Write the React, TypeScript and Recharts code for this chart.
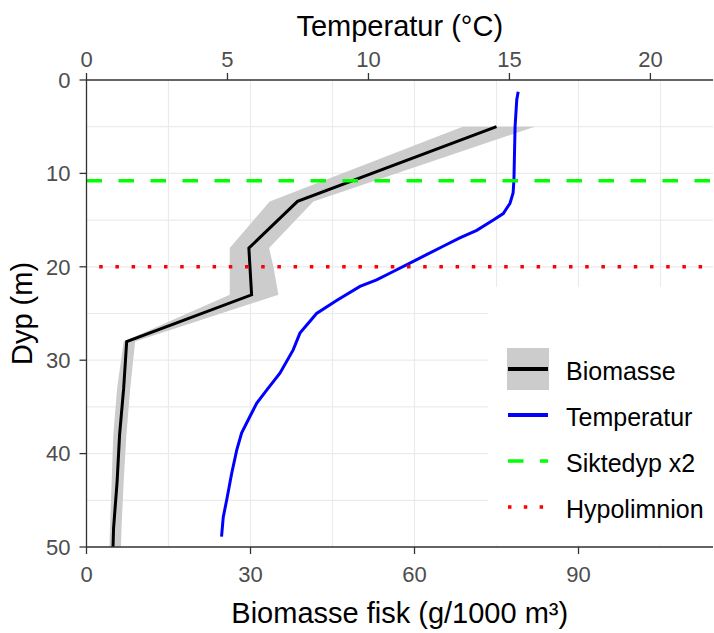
import { ComposedChart, XAxis, YAxis, CartesianGrid, Line, Area, ReferenceLine, Legend, Label } from 'recharts';

const FONT = '"Liberation Sans", Arial, Helvetica, sans-serif';

// biomasse fisk (g/1000 m3) med usikkerhetsbånd, per dyp (m)
const bioDepth = [5, 13, 18, 20, 23, 28, 33, 38, 43, 48, 50];
const bioMean = [75.0, 38.6, 29.7, 29.9, 30.2, 7.35, 6.8, 6.05, 5.6, 4.95, 4.85];
const bioLow = [68.8, 33.5, 26.2, 26.2, 26.2, 6.8, 5.6, 4.9, 4.6, 4.3, 4.2];
const bioHigh = [82.0, 41.5, 33.4, 34.2, 35.1, 8.9, 8.0, 7.3, 6.8, 6.4, 6.3];

// temperaturprofil
const tempDepth = [1.25, 2.1, 5.0, 10.7, 12.1, 13.2, 14.3, 15.0, 16.1, 16.9, 17.8, 18.7, 19.6, 20.5, 21.4, 22.1,
  23.6, 25.0, 27.1, 28.9, 31.4, 33.2, 34.6, 36.0, 37.8, 39.6, 42.1, 45.0, 46.8, 48.9];
const tempValue = [15.31, 15.26, 15.2, 15.16, 15.13, 15.02, 14.78, 14.43, 13.84, 13.24, 12.65, 12.06, 11.47, 10.88, 10.29, 9.7,
  8.87, 8.16, 7.57, 7.33, 6.86, 6.39, 6.04, 5.8, 5.5, 5.33, 5.15, 4.97, 4.85, 4.79];

const siktedyp2 = 10.8;
const hypolimnion = 20;

const bioTicks = [0, 30, 60, 90];
const tempTicks = [0, 5, 10, 15, 20];
const depthTicks = [0, 10, 20, 30, 40, 50];
const bioGrid = [0, 15, 30, 45, 60, 75, 90, 105];
const depthGrid = [0, 5, 10, 15, 20, 25, 30, 35, 40, 45, 50];

const legendNames = ['Biomasse', 'Temperatur', 'Siktedyp x2', 'Hypolimnion'];

const biomasse = bioDepth.map((d, i) => ({ depth: d, bio: bioMean[i], band: [bioLow[i], bioHigh[i]] }));
const temperatur = tempDepth.map((d, i) => ({ depth: d, temp: tempValue[i] }));

const tickStyle = { fill: '#4d4d4d', fontSize: 22, fontFamily: FONT };
const axisStyle = { stroke: '#333333', strokeWidth: 1.3 };

function LegendKey({ i }: { i: number }) {
  if (i === 0) {
    return (
      <svg width={42} height={42}>
        <rect x={0} y={0} width={42} height={42} fill="#cccccc" />
        <line x1={1} x2={41} y1={21} y2={21} stroke="#000" strokeWidth={4} />
      </svg>
    );
  }
  const stroke = ['', '#0000ff', '#00ff00', '#ff0000'][i];
  const dash = ['', undefined, '15.5 16.5', '3.5 12.3'][i];
  return (
    <svg width={42} height={42}>
      <line x1={1} x2={41} y1={21} y2={21} stroke={stroke} strokeWidth={i === 1 ? 4 : 3.5} strokeDasharray={dash} />
    </svg>
  );
}

function LegendBox() {
  return (
    <div style={{ width: 225, height: 258, background: '#fff', paddingTop: 58.5, paddingLeft: 19, boxSizing: 'border-box' }}>
      {legendNames.map((name, i) => (
        <div key={name} style={{ display: 'flex', alignItems: 'center', height: 46 }}>
          <LegendKey i={i} />
          <span style={{ marginLeft: 17, fontFamily: FONT, fontSize: 25, color: '#000', position: 'relative', top: 3 }}>{name}</span>
        </div>
      ))}
    </div>
  );
}

export default function App() {
  return (
    <div style={{ position: 'absolute', left: 0, top: 0, background: '#fff' }}>
      <ComposedChart width={714} height={633} layout="vertical" margin={{ top: 0, right: 1, bottom: 0, left: 0 }}>
        <CartesianGrid xAxisId="bio" yAxisId="d" stroke="#ebebeb" strokeWidth={1.2}
          verticalValues={bioGrid} horizontalValues={depthGrid} />
        <XAxis xAxisId="bio" orientation="bottom" type="number" domain={[0, 114.6]} ticks={bioTicks}
          allowDataOverflow height={86} tick={tickStyle} tickSize={7} tickMargin={12}
          axisLine={axisStyle} tickLine={axisStyle}>
          <Label value="Biomasse fisk (g/1000 m³)" position="insideBottom" offset={10}
            style={{ fontSize: 29, fontFamily: FONT, fill: '#000' }} />
        </XAxis>
        <XAxis xAxisId="temp" orientation="top" type="number" domain={[0, 22.22]} ticks={tempTicks}
          allowDataOverflow height={80} tick={tickStyle} tickSize={7} tickMargin={6}
          axisLine={axisStyle} tickLine={axisStyle}>
          <Label value="Temperatur (°C)" position="insideTop" offset={15}
            style={{ fontSize: 29, fontFamily: FONT, fill: '#000' }} />
        </XAxis>
        <YAxis yAxisId="d" type="number" dataKey="depth" domain={[0, 50]} ticks={depthTicks}
          allowDataOverflow width={86.5} tick={tickStyle} tickSize={7} tickMargin={9}
          axisLine={axisStyle} tickLine={axisStyle}>
          <Label content={(props: any) => {
            const vb = props.viewBox;
            const cx = vb.x + 32;
            const cy = vb.y + vb.height / 2;
            return (
              <text x={cx} y={cy} transform={`rotate(-90 ${cx} ${cy})`} textAnchor="middle"
                style={{ fontSize: 29, fontFamily: FONT, fill: '#000' }}>Dyp (m)</text>
            );
          }} />
        </YAxis>
        <Area xAxisId="bio" yAxisId="d" data={biomasse} dataKey="band" type="linear"
          fill="#cccccc" fillOpacity={1} stroke="none" isAnimationActive={false} />
        <Line xAxisId="bio" yAxisId="d" data={biomasse} dataKey="bio" type="linear" stroke="#000000"
          strokeWidth={3} dot={false} activeDot={false} isAnimationActive={false} />
        <Line xAxisId="temp" yAxisId="d" data={temperatur} dataKey="temp" type="linear" stroke="#0000ff"
          strokeWidth={3} dot={false} activeDot={false} isAnimationActive={false} />
        <ReferenceLine xAxisId="bio" yAxisId="d" y={siktedyp2} stroke="#00ff00" strokeWidth={3.5}
          strokeDasharray="15.5 16.5" />
        <ReferenceLine xAxisId="bio" yAxisId="d" y={hypolimnion} stroke="#ff0000" strokeWidth={3.5}
          strokeDasharray="3.5 12.7" strokeDashoffset={3.5} />
        <Legend layout="vertical" align="center" verticalAlign="middle"
          wrapperStyle={{ left: 488, top: 287, width: 225, height: 258 }} content={() => <LegendBox />} />
      </ComposedChart>
    </div>
  );
}
